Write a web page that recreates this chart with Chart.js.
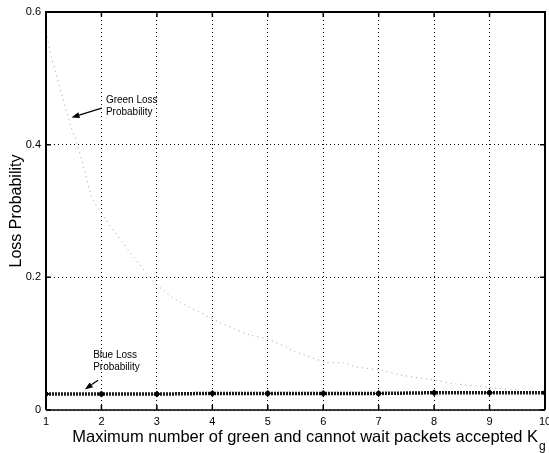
<!DOCTYPE html>
<html>
<head>
<meta charset="utf-8">
<script src="https://cdn.jsdelivr.net/npm/chart.js@4.4.1/dist/chart.umd.min.js"></script>
<style>
  html, body { margin: 0; padding: 0; background: #fff; }
  #wrap { width: 549px; height: 453px; }
</style>
</head>
<body>
<div id="wrap"><canvas id="c" width="549" height="453"></canvas></div>
<script>
// Maximum number of green and cannot-wait packets accepted (K_g)
const greenK = [1.0, 1.1, 1.17, 1.45, 1.52, 1.64, 1.69, 1.88, 2.93, 3.11, 3.35, 4.19, 4.68, 5.01,
                5.49, 5.61, 6.06, 6.36, 6.6, 7.05, 7.38, 8.01, 8.34, 9.0, 9.54];
const greenLoss = [0.57, 0.531, 0.51, 0.427, 0.412, 0.378, 0.362, 0.312, 0.194, 0.181, 0.166, 0.130, 0.113, 0.107,
                   0.088, 0.0845, 0.072, 0.071, 0.065, 0.060, 0.053, 0.045, 0.040, 0.034, 0.030];

const blueK = [1, 2, 3, 4, 5, 6, 7, 8, 9, 10];
const blueLoss = [0.024, 0.024, 0.024, 0.025, 0.025, 0.025, 0.025, 0.026, 0.026, 0.026];

const xTicks = [1, 2, 3, 4, 5, 6, 7, 8, 9, 10];
const yTicks = [0, 0.2, 0.4, 0.6];

const xTitle = 'Maximum number of green and cannot wait packets accepted K';
const xTitleSub = 'g';
const yTitle = 'Loss Probability';

// Callout text and arrows, anchored in data units
const callouts = [
  { lines: ['Green Loss', 'Probability'], textX: 2.08, textY: 0.467, lineStep: 0.018,
    from: [2.005, 0.455], to: [1.46, 0.441] },
  { lines: ['Blue Loss', 'Probability'], textX: 1.85, textY: 0.083, lineStep: 0.018,
    from: [1.94, 0.045], to: [1.70, 0.031] }
];

const FONT = '"Liberation Sans", Arial, Helvetica, sans-serif';

const toXY = (xs, ys) => xs.map((x, i) => ({ x: x, y: ys[i] }));

const framePlugin = {
  id: 'frame',
  afterDraw(chart) {
    const ctx = chart.ctx;
    const a = chart.chartArea;
    const xs = chart.scales.x, ys = chart.scales.y;
    ctx.save();
    ctx.strokeStyle = '#000';
    // axes box
    ctx.lineWidth = 2;
    ctx.beginPath();
    ctx.moveTo(a.left, a.bottom); ctx.lineTo(a.left, a.top);
    ctx.lineTo(a.right, a.top); ctx.lineTo(a.right, a.bottom);
    ctx.stroke();
    ctx.lineWidth = 1.5;
    ctx.beginPath();
    ctx.moveTo(a.left, a.bottom); ctx.lineTo(a.right, a.bottom);
    ctx.stroke();
    // inward tick marks
    const tl = 5;
    ctx.lineWidth = 1.5;
    ctx.beginPath();
    xTicks.forEach(v => {
      const px = xs.getPixelForValue(v);
      ctx.moveTo(px, a.top); ctx.lineTo(px, a.top + tl);
      ctx.moveTo(px, a.bottom); ctx.lineTo(px, a.bottom - tl);
    });
    yTicks.forEach(v => {
      const py = ys.getPixelForValue(v);
      ctx.moveTo(a.left, py); ctx.lineTo(a.left + tl, py);
      ctx.moveTo(a.right, py); ctx.lineTo(a.right - tl, py);
    });
    ctx.stroke();

    // callouts
    ctx.fillStyle = '#000';
    ctx.font = '10px ' + FONT;
    ctx.textBaseline = 'middle';
    ctx.textAlign = 'left';
    callouts.forEach(c => {
      c.lines.forEach((t, i) => {
        ctx.fillText(t, xs.getPixelForValue(c.textX), ys.getPixelForValue(c.textY - i * c.lineStep));
      });
      const x0 = xs.getPixelForValue(c.from[0]), y0 = ys.getPixelForValue(c.from[1]);
      const x1 = xs.getPixelForValue(c.to[0]), y1 = ys.getPixelForValue(c.to[1]);
      const ang = Math.atan2(y1 - y0, x1 - x0);
      const hl = 8, hw = 3;
      const bx = x1 - hl * Math.cos(ang), by = y1 - hl * Math.sin(ang);
      ctx.lineWidth = 1.2;
      ctx.beginPath(); ctx.moveTo(x0, y0); ctx.lineTo(bx, by); ctx.stroke();
      ctx.beginPath();
      ctx.moveTo(x1, y1);
      ctx.lineTo(bx + hw * Math.sin(ang), by - hw * Math.cos(ang));
      ctx.lineTo(bx - hw * Math.sin(ang), by + hw * Math.cos(ang));
      ctx.closePath(); ctx.fill();
    });

    // x-axis title with subscript
    ctx.textBaseline = 'alphabetic';
    ctx.font = '16.5px ' + FONT;
    const mainW = ctx.measureText(xTitle).width;
    ctx.font = '12px ' + FONT;
    const subW = ctx.measureText(xTitleSub).width;
    const cx = (a.left + a.right) / 2 + 13;
    const startX = cx - (mainW + subW) / 2;
    ctx.font = '16.5px ' + FONT;
    ctx.fillText(xTitle, startX, a.bottom + 32);
    ctx.font = '12px ' + FONT;
    ctx.fillText(xTitleSub, startX + mainW + 1, a.bottom + 40);
    ctx.restore();
  }
};

new Chart(document.getElementById('c'), {
  type: 'line',
  data: {
    datasets: [
      {
        label: 'Green Loss Probability',
        data: toXY(greenK, greenLoss),
        borderColor: 'rgba(120,120,120,0.7)',
        borderWidth: 1,
        borderDash: [1, 4],
        pointRadius: 0,
        tension: 0.3,
        fill: false
      },
      {
        label: 'Blue Loss Probability',
        data: toXY(blueK, blueLoss),
        borderColor: '#1a1a1a',
        borderWidth: 3.5,
        borderDash: [2, 1],
        pointStyle: 'rectRot',
        pointRadius: 3,
        pointBackgroundColor: '#000',
        pointBorderColor: '#000',
        pointBorderWidth: 1,
        tension: 0,
        fill: false
      }
    ]
  },
  options: {
    responsive: false,
    animation: false,
    devicePixelRatio: 1,
    layout: { autoPadding: false, padding: { top: 12, right: 4, left: 0, bottom: 0 } },
    plugins: { legend: { display: false }, tooltip: { enabled: false } },
    scales: {
      x: {
        type: 'linear',
        min: 1, max: 10,
        afterBuildTicks(scale) { scale.ticks = xTicks.map(v => ({ value: v })); },
        afterFit(scale) {
          scale.height = 43;
          scale.paddingLeft = 0; scale.paddingRight = 0;
        },
        border: { display: false, dash: [1, 3] },
        grid: { color: '#000', lineWidth: 1, drawTicks: false },
        ticks: { color: '#000', padding: 5, font: { family: FONT, size: 11 }, maxRotation: 0,
                 callback: v => String(v) }
      },
      y: {
        type: 'linear',
        min: 0, max: 0.6,
        afterBuildTicks(scale) { scale.ticks = yTicks.map(v => ({ value: v })); },
        afterFit(scale) {
          scale.width = 46;
          scale.paddingTop = 0; scale.paddingBottom = 0;
        },
        border: { display: false, dash: [1, 3] },
        grid: { color: '#000', lineWidth: 1, drawTicks: false },
        ticks: { color: '#000', padding: 5, font: { family: FONT, size: 11 },
                 callback: v => (v === 0 ? '0' : String(Math.round(v * 10) / 10)) },
        title: { display: true, text: yTitle, color: '#000', font: { family: FONT, size: 16 },
                 padding: { top: 7, bottom: 0 } }
      }
    }
  },
  plugins: [framePlugin]
});
</script>
</body>
</html>
